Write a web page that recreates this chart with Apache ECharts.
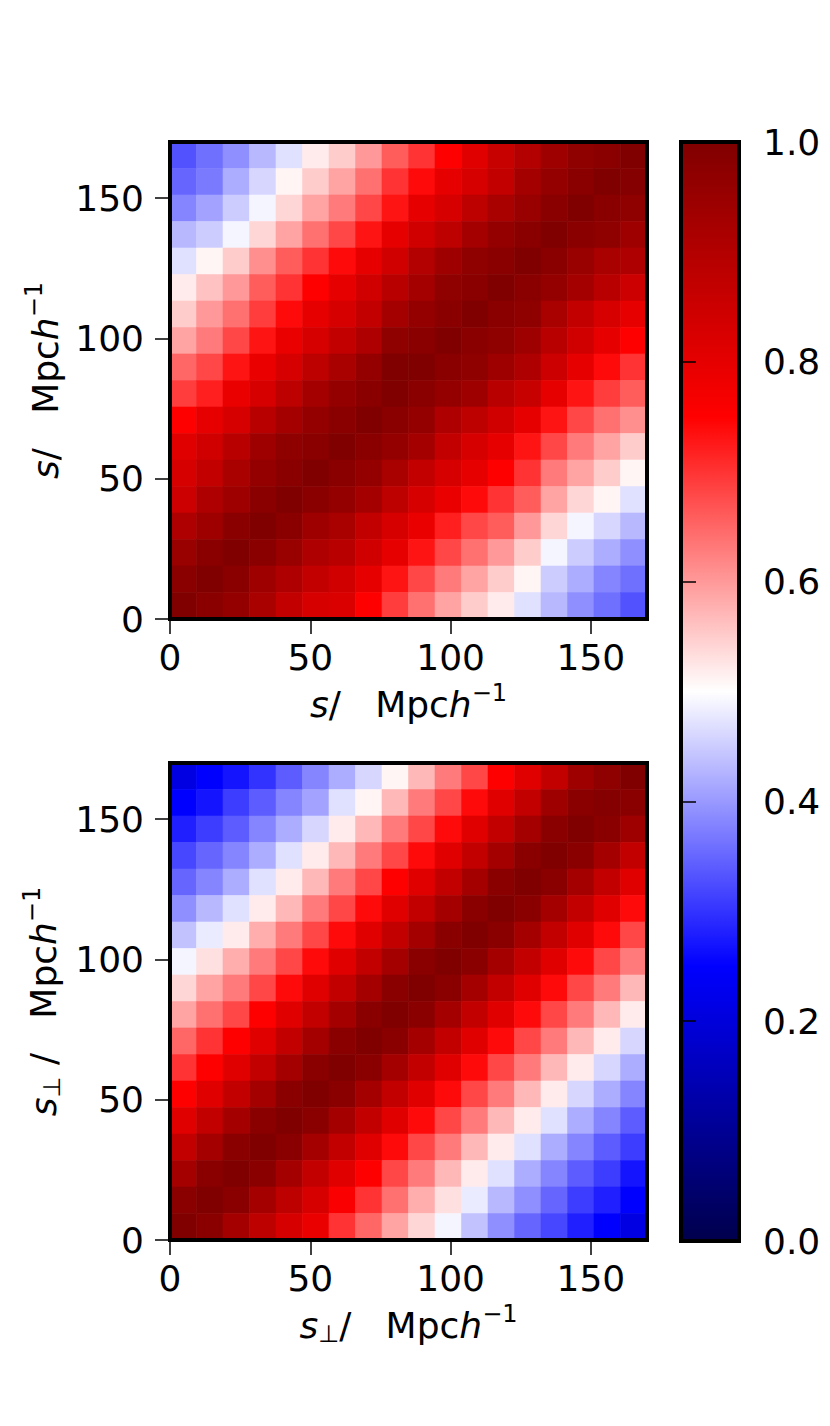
<!DOCTYPE html>
<html>
<head>
<meta charset="utf-8">
<script src="https://cdn.jsdelivr.net/npm/echarts@6/dist/echarts.min.js"></script>
<style>
html, body { margin: 0; padding: 0; background: #fff; }
#chart { width: 830px; height: 1426px; }
</style>
</head>
<body>
<div id="chart"></div>
<script>
const sMax = 170;
const nBins = 18;
const axisTicks = [0, 50, 100, 150];
const seismic = ['#00004c', '#0000ff', '#ffffff', '#ff0000', '#800000'];

// rows are listed from the top of the plot (largest s) down to s = 0
const corrS = [
  [0.33, 0.36, 0.39, 0.43, 0.47, 0.52, 0.55, 0.60, 0.66, 0.70, 0.75, 0.81, 0.86, 0.90, 0.94, 0.97, 0.98, 1.00],
  [0.35, 0.37, 0.42, 0.46, 0.51, 0.55, 0.59, 0.64, 0.70, 0.74, 0.80, 0.83, 0.87, 0.93, 0.96, 0.98, 1.00, 0.99],
  [0.38, 0.41, 0.45, 0.49, 0.54, 0.59, 0.63, 0.68, 0.73, 0.80, 0.83, 0.88, 0.92, 0.95, 0.98, 1.00, 0.98, 0.97],
  [0.43, 0.45, 0.49, 0.54, 0.59, 0.64, 0.68, 0.73, 0.80, 0.84, 0.88, 0.93, 0.96, 0.98, 1.00, 0.98, 0.97, 0.94],
  [0.47, 0.51, 0.55, 0.61, 0.66, 0.70, 0.74, 0.80, 0.84, 0.90, 0.94, 0.97, 0.98, 1.00, 0.98, 0.95, 0.92, 0.91],
  [0.52, 0.56, 0.60, 0.66, 0.70, 0.75, 0.80, 0.84, 0.89, 0.93, 0.97, 0.98, 1.00, 0.98, 0.96, 0.93, 0.89, 0.85],
  [0.55, 0.60, 0.64, 0.69, 0.74, 0.80, 0.83, 0.87, 0.93, 0.96, 0.98, 1.00, 0.98, 0.97, 0.92, 0.87, 0.83, 0.80],
  [0.59, 0.63, 0.68, 0.73, 0.79, 0.83, 0.87, 0.91, 0.97, 0.98, 1.00, 0.98, 0.97, 0.94, 0.89, 0.84, 0.80, 0.75],
  [0.65, 0.68, 0.73, 0.79, 0.83, 0.88, 0.92, 0.96, 1.00, 1.00, 0.98, 0.97, 0.94, 0.91, 0.85, 0.80, 0.74, 0.70],
  [0.69, 0.72, 0.79, 0.83, 0.88, 0.93, 0.96, 0.98, 1.00, 0.98, 0.96, 0.94, 0.89, 0.86, 0.80, 0.73, 0.69, 0.66],
  [0.75, 0.80, 0.83, 0.89, 0.93, 0.96, 0.98, 1.00, 0.98, 0.96, 0.91, 0.88, 0.84, 0.80, 0.73, 0.68, 0.64, 0.61],
  [0.81, 0.84, 0.89, 0.94, 0.97, 0.98, 1.00, 0.98, 0.96, 0.93, 0.87, 0.83, 0.80, 0.73, 0.68, 0.63, 0.59, 0.55],
  [0.83, 0.87, 0.92, 0.96, 0.98, 1.00, 0.98, 0.96, 0.92, 0.87, 0.83, 0.80, 0.75, 0.70, 0.63, 0.59, 0.55, 0.51],
  [0.85, 0.91, 0.94, 0.98, 1.00, 0.98, 0.96, 0.93, 0.88, 0.83, 0.79, 0.74, 0.70, 0.66, 0.59, 0.54, 0.51, 0.47],
  [0.91, 0.94, 0.98, 1.00, 0.98, 0.94, 0.92, 0.87, 0.83, 0.79, 0.72, 0.68, 0.66, 0.60, 0.54, 0.49, 0.46, 0.43],
  [0.95, 0.98, 1.00, 0.98, 0.95, 0.91, 0.89, 0.84, 0.80, 0.73, 0.68, 0.64, 0.60, 0.55, 0.49, 0.45, 0.42, 0.39],
  [0.98, 1.00, 0.98, 0.94, 0.91, 0.87, 0.84, 0.80, 0.73, 0.68, 0.63, 0.59, 0.55, 0.51, 0.45, 0.42, 0.38, 0.36],
  [1.00, 0.98, 0.96, 0.92, 0.87, 0.83, 0.82, 0.75, 0.69, 0.64, 0.59, 0.55, 0.52, 0.47, 0.43, 0.39, 0.36, 0.33]
];

const corrPerp = [
  [0.21, 0.25, 0.27, 0.30, 0.34, 0.38, 0.42, 0.46, 0.51, 0.57, 0.63, 0.68, 0.75, 0.81, 0.87, 0.94, 0.97, 1.00],
  [0.25, 0.27, 0.31, 0.34, 0.38, 0.41, 0.47, 0.51, 0.57, 0.63, 0.68, 0.74, 0.81, 0.87, 0.94, 0.98, 0.99, 0.98],
  [0.28, 0.31, 0.34, 0.38, 0.42, 0.46, 0.52, 0.57, 0.63, 0.68, 0.74, 0.81, 0.87, 0.93, 0.98, 1.00, 0.98, 0.94],
  [0.32, 0.35, 0.38, 0.42, 0.47, 0.52, 0.57, 0.63, 0.68, 0.74, 0.81, 0.87, 0.93, 0.98, 1.00, 0.98, 0.93, 0.87],
  [0.35, 0.38, 0.42, 0.47, 0.52, 0.57, 0.63, 0.68, 0.75, 0.81, 0.87, 0.93, 0.98, 1.00, 0.98, 0.93, 0.87, 0.81],
  [0.39, 0.43, 0.47, 0.52, 0.57, 0.63, 0.68, 0.74, 0.81, 0.87, 0.93, 0.98, 1.00, 0.98, 0.93, 0.87, 0.81, 0.74],
  [0.44, 0.48, 0.52, 0.58, 0.63, 0.68, 0.74, 0.81, 0.87, 0.93, 0.98, 1.00, 0.98, 0.93, 0.87, 0.81, 0.74, 0.68],
  [0.49, 0.53, 0.58, 0.63, 0.68, 0.74, 0.81, 0.87, 0.93, 0.98, 1.00, 0.98, 0.93, 0.87, 0.81, 0.74, 0.68, 0.63],
  [0.54, 0.59, 0.63, 0.68, 0.74, 0.81, 0.87, 0.93, 0.98, 1.00, 0.98, 0.93, 0.87, 0.81, 0.74, 0.68, 0.63, 0.57],
  [0.59, 0.64, 0.68, 0.75, 0.81, 0.87, 0.93, 0.98, 1.00, 0.98, 0.93, 0.87, 0.81, 0.74, 0.68, 0.63, 0.57, 0.52],
  [0.65, 0.70, 0.75, 0.81, 0.87, 0.93, 0.98, 1.00, 0.98, 0.93, 0.87, 0.81, 0.74, 0.68, 0.63, 0.57, 0.52, 0.46],
  [0.70, 0.75, 0.81, 0.87, 0.93, 0.98, 1.00, 0.98, 0.93, 0.87, 0.81, 0.74, 0.68, 0.63, 0.57, 0.52, 0.46, 0.42],
  [0.75, 0.81, 0.87, 0.93, 0.98, 1.00, 0.98, 0.93, 0.87, 0.81, 0.74, 0.68, 0.63, 0.57, 0.52, 0.46, 0.42, 0.38],
  [0.81, 0.87, 0.93, 0.98, 1.00, 0.98, 0.93, 0.87, 0.81, 0.74, 0.68, 0.63, 0.57, 0.52, 0.47, 0.42, 0.38, 0.34],
  [0.87, 0.93, 0.98, 1.00, 0.98, 0.93, 0.87, 0.81, 0.74, 0.68, 0.63, 0.57, 0.52, 0.47, 0.42, 0.38, 0.34, 0.31],
  [0.93, 0.98, 1.00, 0.98, 0.93, 0.87, 0.81, 0.75, 0.68, 0.63, 0.57, 0.52, 0.47, 0.42, 0.38, 0.34, 0.31, 0.27],
  [0.98, 1.00, 0.98, 0.93, 0.88, 0.83, 0.76, 0.70, 0.64, 0.58, 0.53, 0.48, 0.43, 0.39, 0.35, 0.31, 0.28, 0.25],
  [1.00, 0.98, 0.93, 0.88, 0.83, 0.79, 0.70, 0.65, 0.59, 0.54, 0.49, 0.44, 0.39, 0.35, 0.32, 0.28, 0.25, 0.21]
];

const FONT = 'DejaVu Sans';
const binW = sMax / nBins;

function toCells(rows) {
  const out = [];
  rows.forEach((row, r) => {
    const j = rows.length - 1 - r;
    row.forEach((v, i) => out.push([i, j, v]));
  });
  return out;
}

function renderCell(params, api) {
  const i = api.value(0), j = api.value(1);
  const p0 = api.coord([i * binW, j * binW]);
  const p1 = api.coord([(i + 1) * binW, (j + 1) * binW]);
  const c = api.visual('color');
  return {
    type: 'rect',
    shape: { x: p0[0], y: p1[1], width: p1[0] - p0[0], height: p0[1] - p1[1] },
    style: { fill: c, stroke: c, lineWidth: 0.6 }
  };
}

const NB = '\u00a0';
const rich = {
  i: { fontFamily: FONT, fontSize: 36, fontStyle: 'italic', color: '#000' },
  n: { fontFamily: FONT, fontSize: 36, color: '#000' },
  sup: { fontFamily: FONT, fontSize: 24, color: '#000', padding: [0, 0, 22, 0] },
  sub: { fontFamily: FONT, fontSize: 24, color: '#000', padding: [18, 0, 0, 0] }
};
const nameS = '{i|s}{n|/' + NB + NB + NB + 'Mpc}{i|h}{sup|\u22121}';
const namePerpX = '{i|s}{sub|\u22a5}{n|/' + NB + NB + NB + 'Mpc}{i|h}{sup|\u22121}';
const namePerpY = '{i|s}{sub|\u22a5}{n|' + NB + '/' + NB + NB + NB + 'Mpc}{i|h}{sup|\u22121}';

const frame = { show: true, z: 10, borderColor: '#000', borderWidth: 4, backgroundColor: 'transparent' };

function xAxisFor(g, name) {
  return {
    gridIndex: g, type: 'value', min: 0, max: sMax, interval: 50, z: 10,
    splitLine: { show: false },
    axisLine: { show: true, onZero: false, lineStyle: { color: '#000', width: 4 } },
    axisTick: { show: true, length: 15, customValues: axisTicks, lineStyle: { color: '#000', width: 1.5 } },
    axisLabel: { customValues: axisTicks, fontFamily: FONT, fontSize: 36, color: '#000', margin: 20 },
    name: name, nameLocation: 'middle', nameGap: 62,
    nameTextStyle: { fontFamily: FONT, fontSize: 36, color: '#000', rich: rich }
  };
}

function yAxisFor(g, name) {
  return {
    gridIndex: g, type: 'value', min: 0, max: sMax, interval: 50, z: 10,
    splitLine: { show: false },
    axisLine: { show: true, onZero: false, lineStyle: { color: '#000', width: 4 } },
    axisTick: { show: true, length: 15, customValues: axisTicks, lineStyle: { color: '#000', width: 1.5 } },
    axisLabel: { customValues: axisTicks, fontFamily: FONT, fontSize: 36, color: '#000', margin: 26 },
    name: name, nameLocation: 'middle', nameRotate: 90, nameGap: 102,
    nameTextStyle: { fontFamily: FONT, fontSize: 36, color: '#000', rich: rich }
  };
}

const chart = echarts.init(document.getElementById('chart'), null, { renderer: 'svg' });

chart.setOption({
  animation: false,
  backgroundColor: '#fff',
  grid: [
    Object.assign({ left: 170, top: 142, width: 477, height: 477 }, frame),
    Object.assign({ left: 170, top: 763, width: 477, height: 477 }, frame),
    Object.assign({ left: 681, top: 142, width: 58, height: 1099 }, frame)
  ],
  xAxis: [
    xAxisFor(0, nameS),
    xAxisFor(1, namePerpX),
    { gridIndex: 2, type: 'value', min: 0, max: 1, show: false }
  ],
  yAxis: [
    yAxisFor(0, nameS),
    yAxisFor(1, namePerpY),
    {
      gridIndex: 2, type: 'value', position: 'right', min: 0, max: 1, interval: 0.2, z: 10,
      splitLine: { show: false },
      axisLine: { show: false },
      axisTick: { show: true, length: 15, lineStyle: { color: '#000', width: 1.5 } },
      axisLabel: { fontFamily: FONT, fontSize: 36, color: '#000', margin: 24, formatter: v => v.toFixed(1) }
    }
  ],
  visualMap: {
    type: 'continuous', show: false, min: 0, max: 1, dimension: 2,
    seriesIndex: [0, 1], inRange: { color: seismic }
  },
  series: [
    { type: 'custom', z: 1, xAxisIndex: 0, yAxisIndex: 0, data: toCells(corrS), renderItem: renderCell },
    { type: 'custom', z: 1, xAxisIndex: 1, yAxisIndex: 1, data: toCells(corrPerp), renderItem: renderCell },
    {
      type: 'custom', z: 1, xAxisIndex: 2, yAxisIndex: 2, data: [[0, 0]],
      renderItem: function (params, api) {
        const p0 = api.coord([0, 0]);
        const p1 = api.coord([1, 1]);
        return {
          type: 'rect',
          shape: { x: p0[0], y: p1[1], width: p1[0] - p0[0], height: p0[1] - p1[1] },
          style: {
            fill: {
              type: 'linear', x: 0, y: 1, x2: 0, y2: 0,
              colorStops: seismic.map((c, k) => ({ offset: k / (seismic.length - 1), color: c }))
            }
          }
        };
      }
    }
  ]
});
</script>
</body>
</html>
